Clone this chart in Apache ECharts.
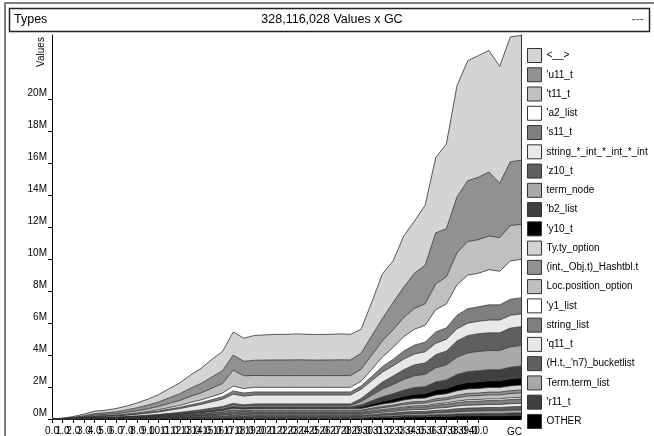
<!DOCTYPE html>
<html><head><meta charset="utf-8">
<script src="https://cdn.jsdelivr.net/npm/echarts@6/dist/echarts.min.js"></script>
<style>html,body{margin:0;padding:0;background:#fff}#c{width:654px;height:436px}</style>
</head><body><div id="c"></div>
<script>
// GC index categories
const categories = ['0.0','1.0','2.0','3.0','4.0','5.0','6.0','7.0','8.0','9.0','10.0','11.0','12.0','13.0','14.0','15.0','16.0','17.0','18.0','19.0','20.0','21.0','22.0','23.0','24.0','25.0','26.0','27.0','28.0','29.0','30.0','31.0','32.0','33.0','34.0','35.0','36.0','37.0','38.0','39.0','40.0','41.0','42.0','43.0','44.0'];
const lastLabelledIndex = 40;
const yTickValues = [0,2,4,6,8,10,12,14,16,18,20];

// series values, in millions (legend order, top of stack first)
const s_lt = [0,.02,.05,.1,.15,.16,.2,.24,.3,.37,.46,.57,.68,.82,.95,1.1,1.2,1.44, 1.45,1.55,1.58,1.6,1.6,1.62,1.6,1.6,1.6,1.62,1.6, 1.5,2.1,2.8,2.6,3.2,3.25,3.75,4.7,5.3,6.95,7.5,7.6,7.6,7.3,7.8,7.8];
const s_u11 = [0,.01,.03,.06,.09,.1,.12,.15,.19,.23,.28,.35,.42,.51,.59,.7,.8,.94, .9,.95,.97,.98,.98,.99,.98,.97,.98,.99,.98, 1.0,1.2,1.4,1.7,1.9,2.2,2.4,3.2,3.0,3.5,3.8,3.9,4.0,3.4,4.0,4.0];
const s_t11 = [0,.01,.02,.04,.07,.08,.09,.11,.14,.17,.21,.26,.31,.38,.44,.52,.6,1.0, .8,.74,.73,.73,.73,.73,.73,.73,.73,.73,.73, .75,.9,1.0,1.1,1.2,1.3,1.35,1.6,1.7,2.0,2.1,2.1,2.1,2.1,2.2,2.2];
const s_a2 = [0,0,.005,.01,.02,.02,.03,.04,.05,.06,.08,.1,.12,.15,.17,.2,.23,.3, .28,.29,.29,.29,.29,.29,.29,.29,.29,.29,.29, .3,.45,.6,.75,.9,1.0,1.05,1.4,1.5,1.9,2.1,2.1,2.2,2.1,2.4,2.4];
const s_s11 = [0,0,.005,.01,.015,.02,.02,.03,.035,.045,.055,.07,.08,.1,.11,.13,.15,.2, .19,.19,.19,.19,.19,.19,.19,.19,.19,.19,.19, .2,.25,.35,.4,.5,.55,.6,.7,.7,.85,.9,.9,.95,.95,1.0,1.0];
const s_str = [0,.005,.015,.03,.05,.06,.07,.085,.105,.13,.16,.2,.24,.29,.34,.4,.46,.58, .55,.56,.56,.56,.56,.56,.56,.56,.56,.56,.56, .58,.6,.62,.64,.66,.68,.7,.72,.74,.76,.78,.78,.8,.8,.8,.8];
const s_z10 = [0,.001,.002,.005,.008,.009,.01,.013,.016,.02,.024,.03,.035,.042,.049,.058,.066,.083, .075,.08,.08,.08,.08,.08,.08,.08,.08,.08,.08, .19,.315,.44,.53,.615,.68,.71,.815,.865,1.01,1.08,1.11,1.105,1.105,1.17,1.18];
const s_term = [0,.001,.003,.006,.01,.011,.013,.016,.02,.025,.03,.037,.044,.053,.061,.072,.083,.104, .094,.1,.1,.1,.1,.1,.1,.1,.1,.1,.1, .21,.35,.48,.58,.67,.74,.77,.88,.94,1.09,1.17,1.2,1.2,1.2,1.27,1.28];
const s_b2 = [0,.001,.002,.004,.006,.007,.008,.01,.012,.015,.018,.022,.026,.032,.037,.043,.05,.062, .056,.06,.06,.06,.06,.06,.06,.06,.06,.06,.06, .13,.2,.28,.33,.38,.42,.44,.51,.54,.64,.68,.7,.69,.69,.73,.74];
const s_y10 = [0,.0005,.0015,.003,.005,.0055,.0065,.008,.01,.0125,.015,.0185,.022,.0265,.0305,.036,.0415,.052, .047,.05,.05,.05,.05,.05,.05,.05,.05,.05,.05, .1,.14,.18,.21,.24,.26,.27,.31,.33,.38,.4,.41,.42,.42,.44,.45];
const s_ty = [0,.001,.003,.006,.01,.011,.013,.016,.02,.025,.03,.037,.044,.053,.061,.072,.083,.104, .094,.1,.1,.1,.1,.1,.1,.1,.1,.1,.1, .1,.12,.14,.16,.18,.2,.2,.23,.24,.27,.28,.29,.29,.29,.3,.31];
const s_hash = [0,.001,.002,.004,.006,.007,.008,.01,.012,.015,.018,.022,.026,.032,.037,.043,.05,.062, .056,.06,.06,.06,.06,.06,.06,.06,.06,.06,.06, .06,.07,.08,.09,.1,.11,.11,.13,.13,.15,.16,.16,.17,.17,.18,.18];
const s_loc = [0,.001,.002,.005,.008,.009,.01,.013,.016,.02,.024,.03,.035,.042,.049,.058,.066,.083, .075,.08,.08,.08,.08,.08,.08,.08,.08,.08,.08, .08,.1,.12,.13,.15,.16,.17,.19,.2,.22,.24,.24,.25,.25,.26,.27];
const s_y1 = [0,.0004,.0012,.0024,.004,.0044,.0052,.0064,.008,.01,.012,.015,.018,.021,.024,.029,.033,.042, .038,.04,.04,.04,.04,.04,.04,.04,.04,.04,.04, .04,.045,.05,.055,.06,.065,.07,.08,.085,.09,.1,.1,.1,.1,.11,.11];
const s_slist = [0,.001,.002,.005,.008,.009,.01,.013,.016,.02,.024,.03,.035,.042,.049,.058,.066,.083, .075,.08,.08,.08,.08,.08,.08,.08,.08,.08,.08, .08,.1,.12,.13,.15,.16,.17,.19,.2,.22,.24,.24,.25,.25,.26,.27];
const s_q11 = [0,.0007,.002,.004,.007,.008,.009,.011,.014,.018,.021,.026,.031,.037,.043,.05,.058,.073, .066,.07,.07,.07,.07,.07,.07,.07,.07,.07,.07, .07,.08,.09,.1,.11,.12,.12,.14,.15,.17,.18,.18,.19,.19,.2,.2];
const s_bucket = [0,.001,.002,.004,.006,.007,.008,.01,.012,.015,.018,.022,.026,.032,.037,.043,.05,.062, .056,.06,.06,.06,.06,.06,.06,.06,.06,.06,.06, .06,.08,.09,.1,.12,.13,.13,.15,.16,.18,.19,.2,.2,.2,.21,.22];
const s_tlist = [0,.001,.002,.004,.006,.007,.008,.01,.012,.015,.018,.022,.026,.032,.037,.043,.05,.062, .056,.06,.06,.06,.06,.06,.06,.06,.06,.06,.06, .06,.07,.08,.09,.1,.11,.11,.13,.13,.15,.16,.16,.17,.17,.18,.18];
const s_r11 = [0,.0005,.0015,.003,.005,.0055,.0065,.008,.01,.0125,.015,.0185,.022,.0265,.0305,.036,.0415,.052, .047,.05,.05,.05,.05,.05,.05,.05,.05,.05,.05, .05,.06,.07,.08,.09,.1,.1,.11,.12,.13,.14,.14,.15,.15,.16,.16];
const s_other = [0,.0005,.0015,.003,.005,.0055,.0065,.008,.01,.0125,.015,.0185,.022,.0265,.0305,.036,.0415,.052, .047,.05,.05,.05,.05,.05,.05,.05,.05,.05,.05, .05,.07,.09,.1,.12,.13,.13,.15,.16,.18,.19,.2,.2,.2,.21,.22];

const seriesNames = ["<__>","'u11_t","'t11_t","'a2_list","'s11_t","string_*_int_*_int_*_int","'z10_t","term_node","'b2_list","'y10_t","Ty.ty_option","(int,_Obj.t)_Hashtbl.t","Loc.position_option","'y1_list","string_list","'q11_t","(H.t,_'n7)_bucketlist","Term.term_list","'r11_t","OTHER"];
const seriesValues = [s_lt,s_u11,s_t11,s_a2,s_s11,s_str,s_z10,s_term,s_b2,s_y10,s_ty,s_hash,s_loc,s_y1,s_slist,s_q11,s_bucket,s_tlist,s_r11,s_other];
const seriesColors = ['#d4d4d4','#919191','#c0c0c0','#ffffff','#7f7f7f','#e8e8e8','#5f5f5f','#a9a9a9','#404040','#000000','#d4d4d4','#919191','#c0c0c0','#ffffff','#7f7f7f','#e8e8e8','#5f5f5f','#a9a9a9','#404040','#000000'];

const FONT = 'Liberation Sans, Arial, Helvetica, sans-serif';
const chart = echarts.init(document.getElementById('c'), null, {renderer:'canvas'});

const series = [];
for (let k = seriesNames.length - 1; k >= 0; k--) {
  series.push({
    name: seriesNames[k], type: 'line', stack: 'all', data: seriesValues[k],
    xAxisIndex: 0, yAxisIndex: 0,
    symbol: 'none', smooth: false, silent: true,
    color: seriesColors[k],
    itemStyle: {color: seriesColors[k]},
    lineStyle: {color: '#333', width: 0.8},
    areaStyle: {color: seriesColors[k], opacity: 1},
    emphasis: {disabled: true}
  });
}

const labelBase = {color: '#000', fontSize: 10, fontFamily: FONT, margin: 7, hideOverlap: false};
function xAxisFor(parity, main) {
  return {
    type: 'category', data: categories, boundaryGap: false, position: 'bottom', gridIndex: 0,
    axisLine: {show: main, lineStyle: {color: '#000', width: 1}},
    axisTick: {show: main, length: 4, interval: (i) => i <= lastLabelledIndex, lineStyle: {color: '#000'}},
    axisLabel: Object.assign({interval: (i) => i <= lastLabelledIndex && i % 2 === parity}, labelBase),
    splitLine: {show: false}
  };
}

chart.setOption({
  animation: false,
  backgroundColor: '#fff',
  textStyle: {fontFamily: FONT},
  grid: {left: 52, right: 133, top: 35, bottom: 17, containLabel: false, outerBoundsMode: 'none'},
  xAxis: [xAxisFor(0, true), xAxisFor(1, false)],
  yAxis: [{
    type: 'value', min: 0, max: 24, interval: 2,
    axisLine: {show: true, lineStyle: {color: '#000', width: 1}},
    axisTick: {show: true, length: 4, customValues: yTickValues, lineStyle: {color: '#000'}},
    axisLabel: {customValues: yTickValues, formatter: (v) => v + 'M', color: '#000', fontSize: 10, fontFamily: FONT, margin: 5, verticalAlign: 'bottom', lineHeight: 11},
    splitLine: {show: false}
  }, {
    type: 'value', min: 0, max: 24, position: 'right',
    axisLine: {show: true, lineStyle: {color: '#333', width: 1}},
    axisTick: {show: false}, axisLabel: {show: false}, splitLine: {show: false}
  }],
  legend: {
    data: seriesNames, orient: 'vertical', left: 527, top: 48, padding: 0,
    itemWidth: 14, itemHeight: 14, itemGap: 4.26, icon: 'rect', selectedMode: false,
    itemStyle: {borderColor: '#333', borderWidth: 1},
    textStyle: {color: '#000', fontSize: 10, fontFamily: FONT}
  },
  graphic: [
    {type: 'polyline', shape: {points: [[5,436],[5,3],[654,3]]}, style: {stroke: '#555', lineWidth: 1.5, fill: null}, silent: true},
    {type: 'rect', shape: {x: 9.5, y: 8.5, width: 640, height: 23}, style: {fill: '#fff', stroke: '#222', lineWidth: 1.5}, silent: true},
    {type: 'text', x: 14, y: 20, style: {text: 'Types', fontSize: 12.5, fontFamily: FONT, fill: '#000', textVerticalAlign: 'middle'}, silent: true},
    {type: 'text', x: 332, y: 20, style: {text: '328,116,028 Values x GC', fontSize: 12.5, fontFamily: FONT, fill: '#000', textAlign: 'center', textVerticalAlign: 'middle'}, silent: true},
    {type: 'text', x: 644, y: 20, style: {text: '---', fontSize: 12.5, fontFamily: FONT, fill: '#555', textAlign: 'right', textVerticalAlign: 'middle'}, silent: true},
    {type: 'text', x: 41, y: 52, rotation: Math.PI / 2, style: {text: 'Values', fontSize: 10, fontFamily: FONT, fill: '#000', textAlign: 'center', textVerticalAlign: 'middle'}, silent: true},
    {type: 'text', x: 514.5, y: 432, style: {text: 'GC', fontSize: 10, fontFamily: FONT, fill: '#000', textAlign: 'center', textVerticalAlign: 'middle'}, silent: true}
  ],
  series: series
});
</script></body></html>
